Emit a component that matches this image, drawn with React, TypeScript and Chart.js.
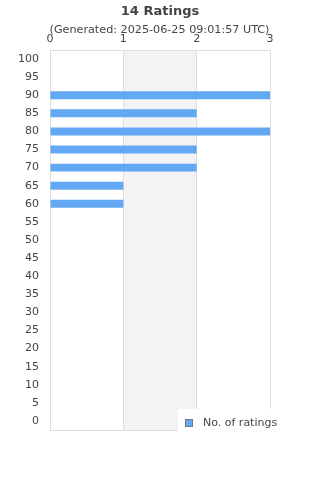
import React, { useEffect, useRef } from "react";
import { Chart, registerables } from "chart.js";

Chart.register(...registerables);

const categories = ["100","95","90","85","80","75","70","65","60","55","50","45","40","35","30","25","20","15","10","5","0"];
const ratings = [0,0,3,2,3,2,2,1,1,0,0,0,0,0,0,0,0,0,0,0,0];
const xTicks = [0,1,2,3];
const titleText = "14 Ratings";
const subtitleText = "(Generated: 2025-06-25 09:01:57 UTC)";
const legendLabel = "No. of ratings";

const FONT = "'DejaVu Sans', sans-serif";
const TEXT = "#444444";
const BAR = "#62a8f4";

const decorPlugin = {
  id: "decor",
  beforeDraw(chart: any) {
    const { ctx, chartArea } = chart;
    const x = chart.scales.x;
    ctx.save();
    ctx.fillStyle = "#f3f3f3";
    for (let i = 1; i < xTicks.length - 1; i += 2) {
      const a = x.getPixelForValue(xTicks[i]);
      const b = x.getPixelForValue(xTicks[i + 1]);
      ctx.fillRect(a, chartArea.top, b - a, chartArea.bottom - chartArea.top);
    }
    ctx.restore();
  },
  afterDatasetsDraw(chart: any) {
    const { ctx, chartArea } = chart;
    ctx.save();
    ctx.strokeStyle = "#dddddd";
    ctx.lineWidth = 1;
    ctx.beginPath();
    ctx.moveTo(chartArea.left, Math.round(chartArea.bottom) + 0.5);
    ctx.lineTo(chartArea.right, Math.round(chartArea.bottom) + 0.5);
    ctx.stroke();
    ctx.restore();
  },
  afterDraw(chart: any) {
    const { ctx } = chart;
    const w = chart.width;
    ctx.save();
    ctx.fillStyle = TEXT;
    ctx.textAlign = "center";
    ctx.textBaseline = "middle";
    ctx.font = `bold 13px ${FONT}`;
    ctx.fillText(titleText, w / 2, 11.5);
    ctx.font = `11.2px ${FONT}`;
    ctx.fillText(subtitleText, w / 2 - 0.5, 30);
    // legend
    ctx.fillStyle = "#ffffff";
    ctx.fillRect(178, 409, 112, 24);
    ctx.fillStyle = BAR;
    ctx.fillRect(185.5, 419.5, 7, 7);
    ctx.strokeStyle = "#777777";
    ctx.lineWidth = 1;
    ctx.strokeRect(185.5, 419.5, 7, 7);
    ctx.fillStyle = TEXT;
    ctx.textAlign = "left";
    ctx.font = `11px ${FONT}`;
    ctx.fillText(legendLabel, 203, 423);
    ctx.restore();
  },
};

export default function App() {
  const ref = useRef<HTMLCanvasElement | null>(null);
  useEffect(() => {
    document.body.style.margin = "0";
    const chart = new Chart(ref.current as HTMLCanvasElement, {
      type: "bar",
      data: {
        labels: categories,
        datasets: [
          {
            label: legendLabel,
            data: ratings,
            backgroundColor: BAR,
            borderWidth: 0,
            barPercentage: 0.9,
            categoryPercentage: 0.49,
          },
        ],
      },
      options: {
        indexAxis: "y",
        animation: false,
        responsive: false,
        layout: { padding: { left: 0, right: 50, top: 0, bottom: 50 } },
        plugins: {
          legend: { display: false },
          title: { display: false },
          tooltip: { enabled: false },
        },
        scales: {
          x: {
            position: "top",
            min: 0,
            max: 3,
            afterFit: (s: any) => { s.height = 50; },
            afterBuildTicks: (s: any) => { s.ticks = xTicks.map((v) => ({ value: v })); },
            ticks: { color: TEXT, font: { family: FONT, size: 11 }, padding: 4 },
            grid: { color: "#dddddd", drawTicks: false },
            border: { color: "#dddddd" },
          },
          y: {
            afterFit: (s: any) => { s.width = 50; },
            ticks: { color: TEXT, font: { family: FONT, size: 11 }, padding: 11, autoSkip: false },
            grid: { display: false, drawTicks: false },
            border: { color: "#dddddd" },
          },
        },
      },
      plugins: [decorPlugin],
    });
    return () => chart.destroy();
  }, []);
  return (
    <div style={{ width: 320, height: 480 }}>
      <canvas ref={ref} width={320} height={480} style={{ display: "block" }} />
    </div>
  );
}
